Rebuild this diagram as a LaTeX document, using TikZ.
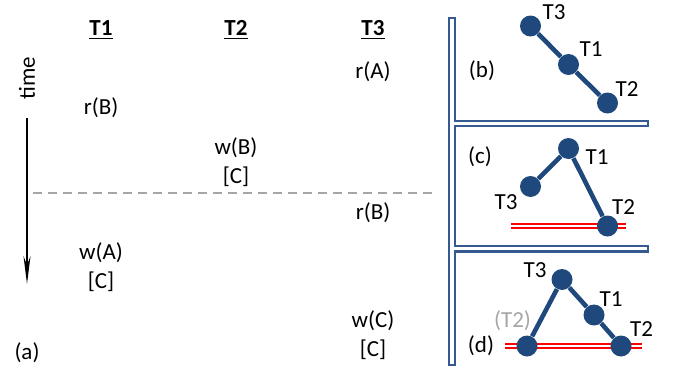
\documentclass[tikz,border=0pt]{standalone}
\usepackage{fontspec}
\setmainfont{Carlito}
\usetikzlibrary{arrows.meta}
\definecolor{nodeblue}{RGB}{31,73,125}
\definecolor{frameblue}{RGB}{52,90,145}
\definecolor{lightgray}{RGB}{166,166,166}

\begin{document}
\begin{tikzpicture}[x=0.5pt,y=-0.5pt,
  every node/.style={font=\fontsize{11.5}{14.5}\selectfont, inner sep=0pt},
  op/.style={align=center},
  head/.style={font=\fontsize{11.5}{14.5}\selectfont\bfseries},
  txn/.style={circle, fill=nodeblue, minimum size=10.5pt, inner sep=0pt},
  edge/.style={nodeblue, line width=2.3pt},
  root/.style={red, line width=0.8pt, double=white, double distance=1pt}]
\useasboundingbox (0,0) rectangle (675,375);
% Headers
\foreach \x/\t in {101/1,236/2,373/3}
  \node[head] (h\t) at (\x,30) {\underline{T\t}};
% Time axis
\node[rotate=90] (time) at (27,78) {time};
\coordinate (tstart) at (27,118);
\coordinate (tend) at (27,284);
\draw[line width=0.8pt, -{Stealth[length=14pt,width=3.5pt]}] (tstart) -- (tend);
% Operations
\node[op] (t1rb) at (101,108) {r(B)};
\node[op] (t2wb) at (236,162.5) {w(B)\\{[C]}};
\node[op] (t3ra) at (373,72) {r(A)};
\node[op] (t3rb) at (373,213) {r(B)};
\node[op] (t1wa) at (101,267) {w(A)\\{[C]}};
\node[op] (t3wc) at (373,335) {w(C)\\{[C]}};
\node (a) at (27,353) {(a)};
% Cut
\coordinate (cutl) at (33,193);
\coordinate (cutr) at (437,193);
\draw[lightgray, line width=0.6pt, dash pattern=on 4.5pt off 3pt] (cutl) -- (cutr);
% Frame
\fill[frameblue] (448,17) rectangle (456,366);
\foreach \y in {119.5,245}
  \fill[frameblue] (448,\y) rectangle (649,\y+7.5);
\fill[white] (450.2,19.2) rectangle (453.8,363.8);
\foreach \y in {119.5,245}
  \fill[white] (450.2,\y+2.2) rectangle (646.8,\y+5.3);
% (b)
\node (lb) at (482,71) {(b)};
\node[txn] (b3) at (530.5,26) {};
\node[txn] (b1) at (568.5,64.5) {};
\node[txn] (b2) at (607.5,103) {};
\draw[edge] (b3) -- (b1) -- (b2);
\node (b3l) at (554,12) {T3};
\node (b1l) at (591,49) {T1};
\node (b2l) at (627,89) {T2};
% (c)
\node (lc) at (480,157) {(c)};
\coordinate (cl) at (511,226);
\coordinate (cr) at (626,226);
\draw[root] (cl) -- (cr);
\node[txn] (c1) at (568.5,148.5) {};
\node[txn] (c3) at (530.5,186.5) {};
\node[txn] (c2) at (607.5,226) {};
\draw[edge] (c3) -- (c1) -- (c2);
\node (c1l) at (597,157) {T1};
\node (c3l) at (506,202) {T3};
\node (c2l) at (623.5,207) {T2};
% (d)
\node (ld) at (481,346) {(d)};
\coordinate (dl) at (505,346);
\coordinate (dr) at (642,346);
\draw[root] (dl) -- (dr);
\node[txn] (d0) at (527,346) {};
\node[txn] (d3) at (562,279.5) {};
\node[txn] (d1) at (594,315) {};
\node[txn] (d2) at (621,346) {};
\draw[edge] (d0) -- (d3) -- (d1) -- (d2);
\node (d3l) at (535,270.5) {T3};
\node (d1l) at (611,299.5) {T1};
\node (d2l) at (641.5,329) {T2};
\node[text=lightgray] (d0l) at (512.5,320.5) {(T2)};
\end{tikzpicture}
\end{document}
